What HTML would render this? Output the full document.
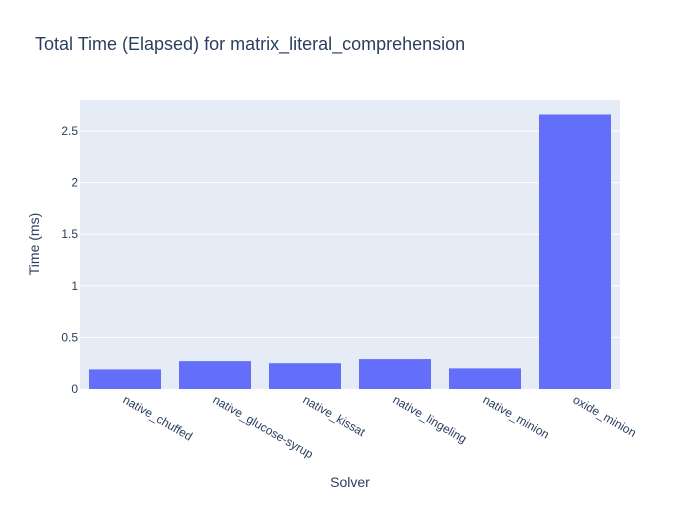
<!DOCTYPE html>
<html><head><meta charset="utf-8">
<style>
body{margin:0;background:#fff;font-family:"Liberation Sans",sans-serif;}
svg text{font-family:"Liberation Sans",sans-serif;fill:#2a3f5f;}
</style></head>
<body>
<svg id="chart" width="700" height="500">
<rect x="0" y="0" width="700" height="500" fill="#fff"/>
<text x="35" y="50" font-size="18">Total Time (Elapsed) for matrix_literal_comprehension</text>
<rect x="80" y="100" width="540" height="289" fill="#e5ecf6"/>
<g id="grid"></g>
<g id="bars"></g>
<g id="xlabels"></g>
<text x="350" y="487" font-size="14" text-anchor="middle">Solver</text>
<text transform="translate(39,244) rotate(-90)" font-size="14" text-anchor="middle">Time (ms)</text>
</svg>
<script>
const categories=["native_chuffed","native_glucose-syrup","native_kissat","native_lingeling","native_minion","oxide_minion"];
const values=[0.19,0.27,0.25,0.29,0.20,2.66];
const yTicks=[0,0.5,1,1.5,2,2.5];
const yTickLabels=["0","0.5","1","1.5","2","2.5"];
const NS="http://www.w3.org/2000/svg";
const x0=80,w=540,yBase=389,pxPerUnit=103.2;
const y=v=>yBase-v*pxPerUnit;
const band=w/categories.length;
const grid=document.getElementById('grid'),bars=document.getElementById('bars'),xl=document.getElementById('xlabels');
yTicks.forEach((t,i)=>{
 if(t>0){const l=document.createElementNS(NS,'line');
 l.setAttribute('x1',x0);l.setAttribute('x2',x0+w);l.setAttribute('y1',y(t));l.setAttribute('y2',y(t));
 l.setAttribute('stroke','#fff');l.setAttribute('stroke-width','1');
 
 
 grid.appendChild(l);}
 const tx=document.createElementNS(NS,'text');
 tx.setAttribute('x',x0-2);tx.setAttribute('y',y(t)+4);tx.setAttribute('text-anchor','end');tx.setAttribute('font-size','12');
 tx.textContent=yTickLabels[i];
 
 
 grid.appendChild(tx);
});
categories.forEach((c,i)=>{
 const cx=x0+band*(i+0.5);
 const r=document.createElementNS(NS,'rect');
 r.setAttribute('x',cx-36);r.setAttribute('width',72);
 r.setAttribute('y',y(values[i]));r.setAttribute('height',yBase-y(values[i]));
 r.setAttribute('fill','#636efa');
 
 
 bars.appendChild(r);
 const t=document.createElementNS(NS,'text');
 t.setAttribute('transform','translate('+(cx-3)+',402) rotate(30)');
 t.setAttribute('font-size','12');
 t.textContent=c;
 
 
 xl.appendChild(t);
});
</script>
</body></html>
